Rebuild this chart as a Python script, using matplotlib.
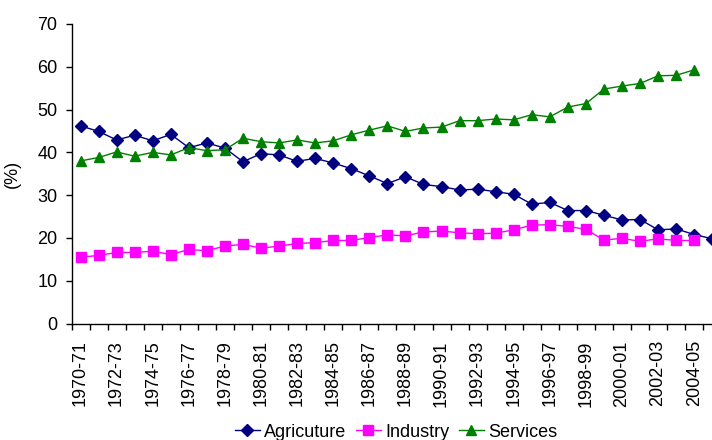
import matplotlib
matplotlib.use("Agg")
import matplotlib.pyplot as plt
from matplotlib.ticker import FixedLocator, MultipleLocator

plt.rcParams['font.family'] = ['Liberation Sans', 'DejaVu Sans']

categories = ["1970-71", "1971-72", "1972-73", "1973-74", "1974-75", "1975-76",
              "1976-77", "1977-78", "1978-79", "1979-80", "1980-81", "1981-82",
              "1982-83", "1983-84", "1984-85", "1985-86", "1986-87", "1987-88",
              "1988-89", "1989-90", "1990-91", "1991-92", "1992-93", "1993-94",
              "1994-95", "1995-96", "1996-97", "1997-98", "1998-99", "1999-00",
              "2000-01", "2001-02", "2002-03", "2003-04", "2004-05", "2005-06"]

agriculture = [46.2, 44.9, 42.9, 44.0, 42.7, 44.2, 41.1, 42.2, 41.0, 37.8,
               39.7, 39.4, 37.9, 38.6, 37.5, 36.2, 34.5, 32.7, 34.3, 32.5,
               32.0, 31.2, 31.4, 30.8, 30.2, 27.9, 28.3, 26.4, 26.4, 25.3,
               24.2, 24.3, 21.9, 22.1, 20.8, 19.8]
industry = [15.5, 15.9, 16.6, 16.6, 16.9, 16.1, 17.3, 17.0, 18.1, 18.5,
            17.6, 18.1, 18.7, 18.9, 19.4, 19.4, 20.1, 20.7, 20.5, 21.4,
            21.6, 21.2, 21.0, 21.1, 21.9, 23.0, 23.1, 22.7, 22.0, 19.5,
            19.9, 19.2, 19.8, 19.4, 19.4]
services = [38.0, 38.8, 40.1, 39.1, 40.0, 39.4, 41.1, 40.4, 40.6, 43.3,
            42.5, 42.2, 42.9, 42.2, 42.7, 44.1, 45.2, 46.2, 44.9, 45.7,
            45.9, 47.4, 47.4, 47.8, 47.6, 48.8, 48.3, 50.6, 51.4, 54.8,
            55.5, 56.1, 57.9, 58.0, 59.3]

fig = plt.figure(figsize=(7.12, 4.4), dpi=100)
ax = fig.add_axes([71.5 / 712, 116.5 / 440, 649.8 / 712, 299.5 / 440])

n = len(categories)
ax.plot(range(len(agriculture)), agriculture, color='#000080', marker='D',
        markersize=6.3, linewidth=1.0, label='Agricuture', clip_on=False)
ax.plot(range(len(industry)), industry, color='#FF00FF', marker='s',
        markersize=7.2, linewidth=1.0, label='Industry', clip_on=False)
ax.plot(range(len(services)), services, color='#008000', marker='^',
        markersize=7.6, linewidth=1.0, label='Services', clip_on=False)

ax.set_xlim(-0.5, n - 0.5)
ax.set_ylim(0, 70)
ax.yaxis.set_major_locator(MultipleLocator(10))

major = list(range(0, n, 2))
ax.xaxis.set_major_locator(FixedLocator(major))
ax.set_xticklabels([categories[i] for i in major], rotation=90, fontsize=13)
ax.xaxis.set_minor_locator(FixedLocator([i - 0.5 for i in range(n + 1)]))
ax.tick_params(axis='x', which='major', length=0, pad=12)
ax.tick_params(axis='x', which='minor', length=4.5, width=1, direction='out')
ax.tick_params(axis='y', which='major', length=4, width=1, direction='out',
               labelsize=13, pad=6)

for s in ['top', 'right']:
    ax.spines[s].set_visible(False)
for s in ['left', 'bottom']:
    ax.spines[s].set_color('black')
    ax.spines[s].set_linewidth(1)

ax.set_ylabel('(%)', fontsize=13)
ax.yaxis.set_label_coords(-0.0785, 0.5)

fig.legend(loc='center', bbox_to_anchor=(396 / 712, 8 / 440),
           bbox_transform=fig.transFigure, ncol=3, frameon=False,
           fontsize=13, handlelength=1.4, handletextpad=0.25,
           columnspacing=0.5, borderpad=0, borderaxespad=0)

fig.savefig('out.png', dpi=100)
